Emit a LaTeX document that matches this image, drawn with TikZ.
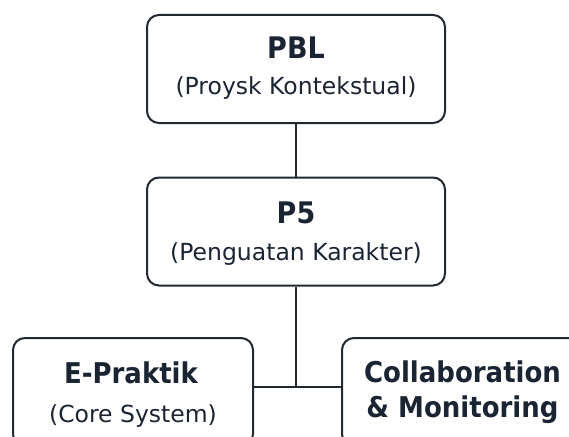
\documentclass[tikz,border=0pt]{standalone}
\usepackage{fontspec}
\setmainfont{DejaVu Sans}
\definecolor{ink}{HTML}{1B2433}
\definecolor{edge}{HTML}{22282F}
\newcommand{\tall}[1]{\scalebox{1}[1.1]{#1}}
\begin{document}
\begin{tikzpicture}[x=1pt,y=-1pt,
  box/.style={draw=edge, line width=2pt, rounded corners=12pt, fill=white,
    inner sep=0pt, minimum width=#1, minimum height=108pt},
  box/.default=298pt,
  conn/.style={draw=edge, line width=2pt},
  title/.style={anchor=base, inner sep=0pt, text=ink, font=\fontsize{26}{30}\selectfont\bfseries},
  bigtitle/.style={title, font=\fontsize{27}{30}\selectfont\bfseries},
  sub/.style={anchor=base, inner sep=0pt, text=ink, font=\fontsize{23.5}{27}\selectfont}
]
\useasboundingbox (0,0) rectangle (569,436);
\clip (0,0) rectangle (569,436);
\fill[white] (0,0) rectangle (569,436);
% boxes
\node[box] (pbl) at (296,69) {};
\node[box] (p5) at (296,231.5) {};
\node[box=240pt] (ep) at (133,392) {};
\node[box=241pt] (co) at (462.5,392) {};
% connectors
\draw[conn] (pbl.south) -- (p5.north);
\coordinate (j) at (296,387);
\draw[conn] (p5.south) -- (j);
\draw[conn] (ep.east |- j) -- (co.west |- j);
% texts
\node[bigtitle] (t1) at (296,59) {\tall{PBL}};
\node[sub] (s1) at (296,94) {(Proysk Kontekstual)};
\node[bigtitle] (t2) at (296,223) {\tall{P5}};
\node[sub] (s2) at (296,260) {(Penguatan Karakter)};
\node[title] (t3) at (131,383) {\tall{E-Praktik}};
\node[sub] (s3) at (133,422) {(Core System)};
\node[title] (t4) at (462.5,382) {\tall{Collaboration}};
\node[title] (t5) at (462.5,417) {\tall{\&~Monitoring}};
\end{tikzpicture}
\end{document}
